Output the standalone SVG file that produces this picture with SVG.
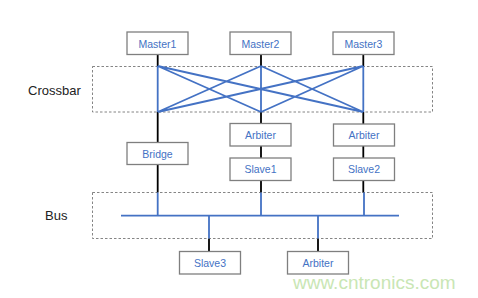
<svg xmlns="http://www.w3.org/2000/svg" width="478" height="298" viewBox="0 0 478 298">
<style>
.box{fill:#fff;stroke:#7f7f7f;stroke-width:1.3}
.bt{font-family:"Liberation Sans","Noto Sans",sans-serif;font-size:10.5px;fill:#4472c4;text-anchor:middle;dominant-baseline:central}
.lbl{font-family:"Liberation Sans","Noto Sans",sans-serif;font-size:13px;fill:#222;dominant-baseline:central}
.dash{fill:none;stroke:#666;stroke-width:0.8;stroke-dasharray:2.5,2}
.k{stroke:#000;stroke-width:1.8;fill:none}
.b{stroke:#4472c4;stroke-width:1.8;fill:none}
</style>
<rect width="478" height="298" fill="#fff"/>
<rect class="dash" x="92.5" y="66.5" width="340" height="45.5"/>
<rect class="dash" x="92.5" y="192.5" width="340" height="46"/>
<text class="lbl" x="28" y="90">Crossbar</text>
<text class="lbl" x="45" y="215">Bus</text>
<g id="connectors">
<path class="k" d="M157.7 54V66M261 54V66M363.3 54V66"/>
<path class="k" d="M157.7 112V142.5M261 112V123.5M363.3 112V124M261 146V158M363.3 146V158M157.7 164.5V192.5M261 181V192.5M363.3 181V192.5M209 238.5V251.5M318 238.5V251.5"/>
<path class="b" d="M157.7 66V112M261 66V112M363.3 66V112M157.7 66L261 112M157.7 66L363.3 112M261 66L157.7 112M261 66L363.3 112M363.3 66L157.7 112M363.3 66L261 112"/>
<path class="b" d="M121 215.7H399M157.7 192.5V215.7M261 192.5V215.7M364 192.5V215.7M209 215.7V238.5M318 215.7V238.5"/>
</g>
<g id="master1"><rect class="box" x="127" y="32" width="61" height="22.5"/><text class="bt" x="157.5" y="43.5">Master1</text></g>
<g id="master2"><rect class="box" x="230" y="32" width="61" height="22.5"/><text class="bt" x="260.5" y="43.5">Master2</text></g>
<g id="master3"><rect class="box" x="333" y="32" width="61" height="22.5"/><text class="bt" x="363.5" y="43.5">Master3</text></g>
<g id="bridge"><rect class="box" x="127" y="142.5" width="61" height="22"/><text class="bt" x="157.5" y="153.5">Bridge</text></g>
<g id="arbiter1"><rect class="box" x="230" y="123.5" width="61" height="22.5"/><text class="bt" x="260.5" y="134.7">Arbiter</text></g>
<g id="slave1"><rect class="box" x="230" y="158" width="61" height="22.5"/><text class="bt" x="260.5" y="169.2">Slave1</text></g>
<g id="arbiter2"><rect class="box" x="333.5" y="124" width="61" height="22"/><text class="bt" x="364" y="135">Arbiter</text></g>
<g id="slave2"><rect class="box" x="333.5" y="158" width="61" height="22.5"/><text class="bt" x="364" y="169.2">Slave2</text></g>
<g id="slave3"><rect class="box" x="179.5" y="251.5" width="61" height="22.5"/><text class="bt" x="210" y="262.7">Slave3</text></g>
<g id="arbiter3"><rect class="box" x="287.5" y="251.5" width="61" height="22.5"/><text class="bt" x="318" y="262.7">Arbiter</text></g>
<text x="293" y="288.5" font-family="Liberation Sans, sans-serif" font-size="19" fill="#c9e6b4">www.cntronics.com</text>
</svg>
